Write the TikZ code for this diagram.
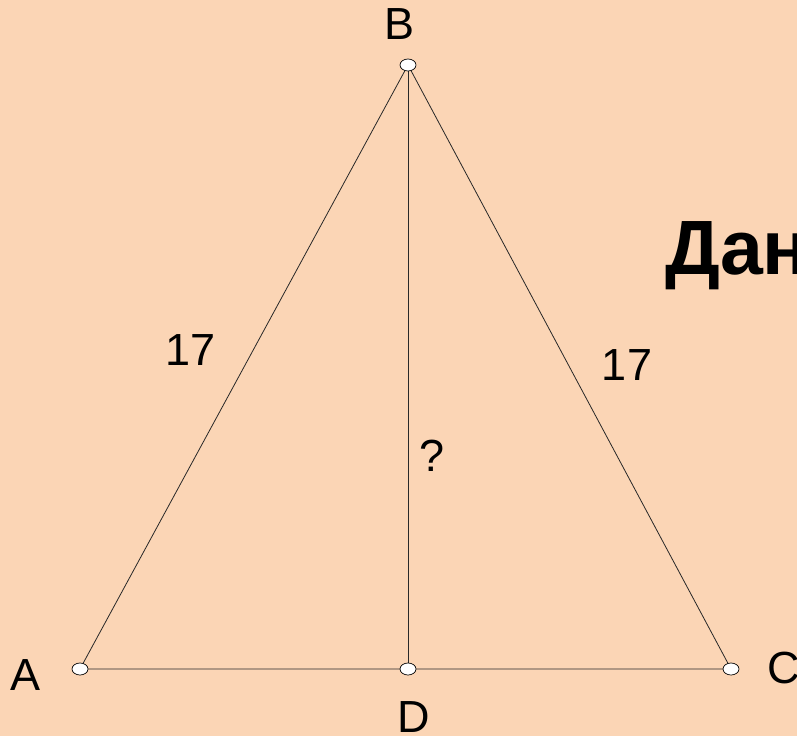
\documentclass[tikz,border=0pt]{standalone}
\usepackage{fontspec}
\setmainfont{Liberation Sans}
\usetikzlibrary{shapes.geometric}
\definecolor{bgpeach}{RGB}{251,213,181}
\definecolor{linegray}{RGB}{40,40,40}
\tikzset{
  ptmark/.style={ellipse,draw=black,fill=white,line width=0.7pt,minimum width=16pt,minimum height=12pt,inner sep=0pt},
  edge/.style={draw=linegray,line width=0.8pt},
  lbl/.style={font=\fontsize{45}{54}\selectfont,inner sep=0pt,text=black}
}
\begin{document}
\begin{tikzpicture}[x=1pt,y=-1pt]
\fill[bgpeach] (0,0) rectangle (797,736);
\useasboundingbox (0,0) rectangle (797,736);
\coordinate (A) at (80,669);
\coordinate (B) at (408,65);
\coordinate (C) at (731,669);
\coordinate (D) at (408,669);
\draw[edge] (A) -- (B) -- (C) -- (A);
\draw[edge] (B) -- (D);
\node[ptmark] (pA) at (A) {};
\node[ptmark] (pB) at (B) {};
\node[ptmark] (pC) at (C) {};
\node[ptmark] (pD) at (D) {};
\node[lbl] (lA) at (26,675) {A};
\node[lbl] (lB) at (400,24) {B};
\node[lbl] (lC) at (784,668) {C};
\node[lbl] (lD) at (414,717) {D};
\node[lbl] (s1) at (191,350) {17};
\node[lbl] (s2) at (627,365) {17};
\node[lbl] (q) at (432,456) {?};
\node[inner sep=0pt,anchor=base west,font=\fontsize{77}{92}\selectfont\bfseries] (dan) at (665,274) {Дан};
\end{tikzpicture}
\end{document}
